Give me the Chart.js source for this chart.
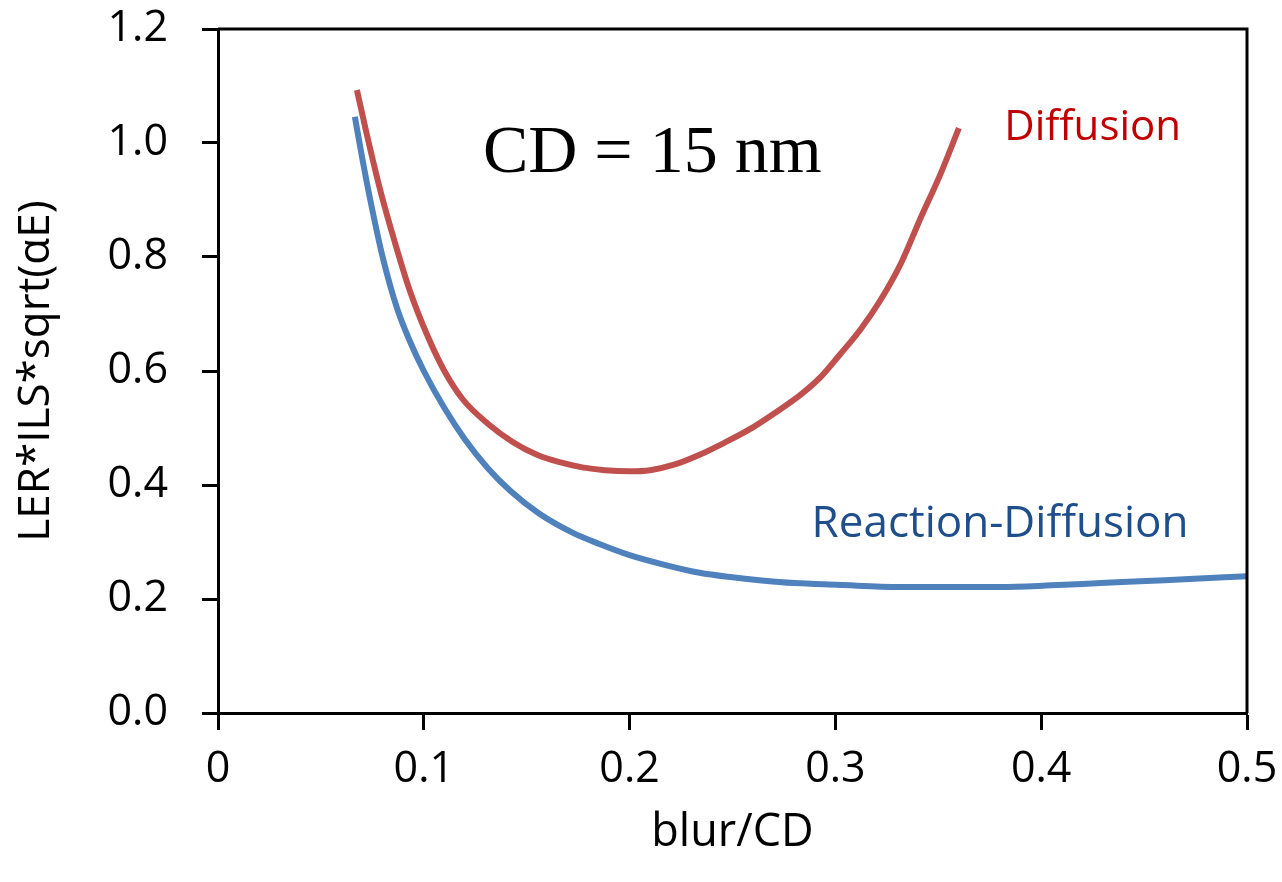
<!DOCTYPE html>
<html>
<head>
<meta charset="utf-8">
<script src="https://cdn.jsdelivr.net/npm/chart.js@4.4.1/dist/chart.umd.min.js"></script>
<style>
  html, body { margin: 0; padding: 0; background: #fff; }
  #wrap { width: 1282px; height: 882px; }
</style>
</head>
<body>
<div id="wrap"><canvas id="chart" width="1282" height="882"></canvas></div>
<script>
// blur/CD values (x) and LER*ILS*sqrt(aE) values (y)
const diffX = [0.0675, 0.072, 0.079, 0.086, 0.0933, 0.102, 0.11, 0.119, 0.131, 0.143, 0.155, 0.166, 0.177, 0.188, 0.2, 0.21, 0.222, 0.234, 0.246, 0.258, 0.27, 0.283, 0.293, 0.302, 0.312, 0.322, 0.332, 0.341, 0.351, 0.36];
const diffY = [1.093, 1.02, 0.915, 0.825, 0.74, 0.66, 0.6, 0.55, 0.508, 0.476, 0.453, 0.44, 0.431, 0.426, 0.424, 0.426, 0.436, 0.453, 0.474, 0.497, 0.525, 0.558, 0.59, 0.628, 0.672, 0.725, 0.79, 0.865, 0.945, 1.026];

const rdX = [0.0665, 0.07, 0.074, 0.08, 0.087, 0.0935, 0.1, 0.11, 0.12, 0.131, 0.142, 0.156, 0.1725, 0.185, 0.2, 0.217, 0.234, 0.25, 0.263, 0.28, 0.301, 0.331, 0.355, 0.38, 0.405, 0.429, 0.46, 0.5];
const rdY = [1.046, 0.975, 0.90, 0.80, 0.71, 0.65, 0.60, 0.535, 0.48, 0.43, 0.39, 0.35, 0.316, 0.297, 0.277, 0.26, 0.246, 0.238, 0.233, 0.228, 0.225, 0.221, 0.221, 0.221, 0.224, 0.228, 0.233, 0.24];

const xTicks = [0, 0.1, 0.2, 0.3, 0.4, 0.5];
const yTicks = [0.0, 0.2, 0.4, 0.6, 0.8, 1.0, 1.2];

// text notes placed in data coordinates
const notes = [
  { text: 'CD = 15 nm', x: 0.211, y: 0.98, color: '#000000', font: '68px "Liberation Serif"' },
  { text: 'Diffusion', x: 0.425, y: 1.026, color: '#C00000', font: '42px "Open Sans"' },
  { text: 'Reaction-Diffusion', x: 0.38, y: 0.33, color: '#1F4E8C', font: '44px "Open Sans"' }
];

function toPoints(xs, ys) {
  return xs.map((x, i) => ({ x: x, y: ys[i] }));
}

// frame around plot area + text notes
const extras = {
  id: 'extras',
  afterDatasetsDraw(chart) {
    const c = chart.ctx;
    const a = chart.chartArea;
    c.save();
    c.strokeStyle = '#000';
    c.lineWidth = 3;
    c.beginPath();
    c.moveTo(a.left, a.top);
    c.lineTo(a.right, a.top);
    c.lineTo(a.right, a.bottom);
    c.stroke();
    const xs = chart.scales.x, ys = chart.scales.y;
    c.textAlign = 'center';
    c.textBaseline = 'middle';
    notes.forEach(n => {
      c.font = n.font;
      c.fillStyle = n.color;
      c.fillText(n.text, xs.getPixelForValue(n.x), ys.getPixelForValue(n.y));
    });
    c.restore();
  }
};

const ctx = document.getElementById('chart');
new Chart(ctx, {
  type: 'scatter',
  data: {
    datasets: [
      {
        label: 'Diffusion',
        data: toPoints(diffX, diffY),
        showLine: true,
        borderColor: '#C0504D',
        borderWidth: 6,
        pointRadius: 0,
        cubicInterpolationMode: 'monotone'
      },
      {
        label: 'Reaction-Diffusion',
        data: toPoints(rdX, rdY),
        showLine: true,
        borderColor: '#4F81BD',
        borderWidth: 6,
        pointRadius: 0,
        cubicInterpolationMode: 'monotone'
      }
    ]
  },
  options: {
    responsive: false,
    animation: false,
    layout: { padding: { top: 29, right: 35, left: 0, bottom: 0 } },
    plugins: {
      legend: { display: false },
      tooltip: { enabled: false }
    },
    scales: {
      x: {
        type: 'linear',
        min: 0,
        max: 0.5,
        afterBuildTicks: (s) => { s.ticks = xTicks.map(v => ({ value: v })); },
        afterFit: (s) => { s.height = 169; s.paddingLeft = 0; s.paddingRight = 0; },
        border: { display: true, color: '#000', width: 3 },
        grid: { display: true, drawOnChartArea: false, drawTicks: true, tickLength: 17, tickWidth: 3, tickColor: '#000' },
        ticks: {
          color: '#000',
          padding: 14,
          maxRotation: 0,
          font: { family: 'Open Sans', size: 43 },
          callback: (v) => String(v)
        },
        title: {
          display: true,
          text: 'blur/CD',
          color: '#000',
          font: { family: 'Open Sans', size: 45 },
          padding: { top: 0, bottom: 22 }
        }
      },
      y: {
        min: 0,
        max: 1.2,
        afterBuildTicks: (s) => { s.ticks = yTicks.map(v => ({ value: v })); },
        afterFit: (s) => { s.width = 218; s.paddingTop = 0; s.paddingBottom = 0; },
        border: { display: true, color: '#000', width: 3 },
        grid: { display: true, drawOnChartArea: false, drawTicks: true, tickLength: 16, tickWidth: 3, tickColor: '#000' },
        ticks: {
          color: '#000',
          padding: 34,
          font: { family: 'Open Sans', size: 43 },
          callback: (v) => v.toFixed(1)
        },
        title: {
          display: true,
          text: 'LER*ILS*sqrt(\u03B1E)',
          color: '#000',
          font: { family: 'Open Sans', size: 44 },
          padding: { top: 10, bottom: 0 }
        }
      }
    }
  },
  plugins: [extras]
});
</script>
</body>
</html>
